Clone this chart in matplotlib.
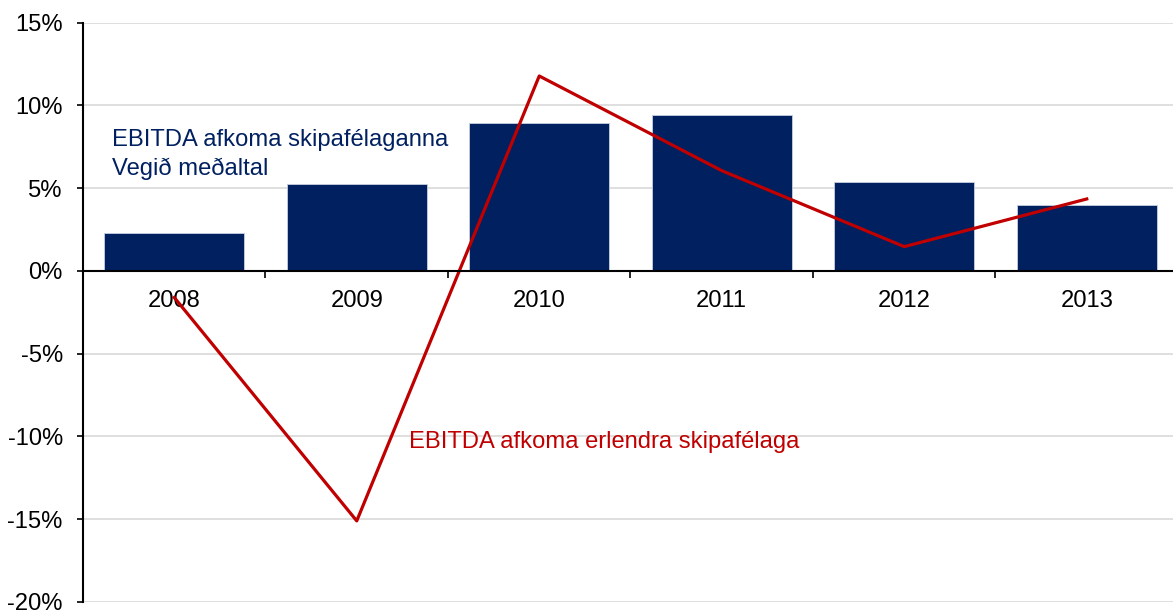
import numpy as np
import matplotlib.pyplot as plt
from matplotlib.ticker import FuncFormatter, MultipleLocator

plt.rcParams['font.family'] = ['Liberation Sans', 'DejaVu Sans']

years = ['2008', '2009', '2010', '2011', '2012', '2013']
ebitda_isl = [2.3, 5.25, 8.92, 9.43, 5.36, 3.99]      # bars, %
ebitda_foreign = [-1.6, -15.1, 11.78, 6.06, 1.47, 4.35]  # line, %

navy = '#002060'
red = '#C00000'
fs = 17.1

fig = plt.figure(figsize=(11.73, 6.12), dpi=100)
ax = fig.add_axes([83 / 1173, 10 / 612, 1095 / 1173, 579.3 / 612])

x = np.arange(len(years))
ax.bar(x, ebitda_isl, width=0.767, color=navy, edgecolor='#c8d0e0', linewidth=0.6, zorder=2)
ax.plot(x, ebitda_foreign, color=red, linewidth=2.3, zorder=3)

ax.set_xlim(-0.5, len(years) - 0.5)
ax.set_ylim(-20, 15)

# y axis
ax.yaxis.set_major_locator(MultipleLocator(5))
ax.yaxis.set_major_formatter(FuncFormatter(lambda v, p: f'{v:.0f}%'))
ax.tick_params(axis='y', direction='out', length=4.5, width=1.2, pad=10, labelsize=fs)
ax.grid(axis='y', color='#d9d9d9', linewidth=1.2, zorder=0)

# category axis on zero line
ax.spines['top'].set_visible(False)
ax.spines['right'].set_visible(False)
ax.spines['left'].set_linewidth(1.5)
ax.spines['bottom'].set_position(('data', 0))
ax.spines['bottom'].set_linewidth(1.5)
ax.spines['bottom'].set_zorder(4)
ax.set_xticks(np.arange(len(years) + 1) - 0.5)
ax.set_xticklabels([])
ax.set_xticks(x, minor=True)
ax.set_xticklabels(years, minor=True)
ax.tick_params(axis='x', which='major', direction='out', length=5, width=1.2)
ax.tick_params(axis='x', which='minor', length=0, pad=14, labelsize=fs)

ax.text(-0.34, 7.9, 'EBITDA afkoma skipafélaganna', color=navy, fontsize=fs, va='center')
ax.text(-0.34, 6.15, 'Vegið meðaltal', color=navy, fontsize=fs, va='center')
ax.text(1.286, -10.35, 'EBITDA afkoma erlendra skipafélaga', color=red, fontsize=fs, va='center')

fig.savefig('out.png', dpi=100)
